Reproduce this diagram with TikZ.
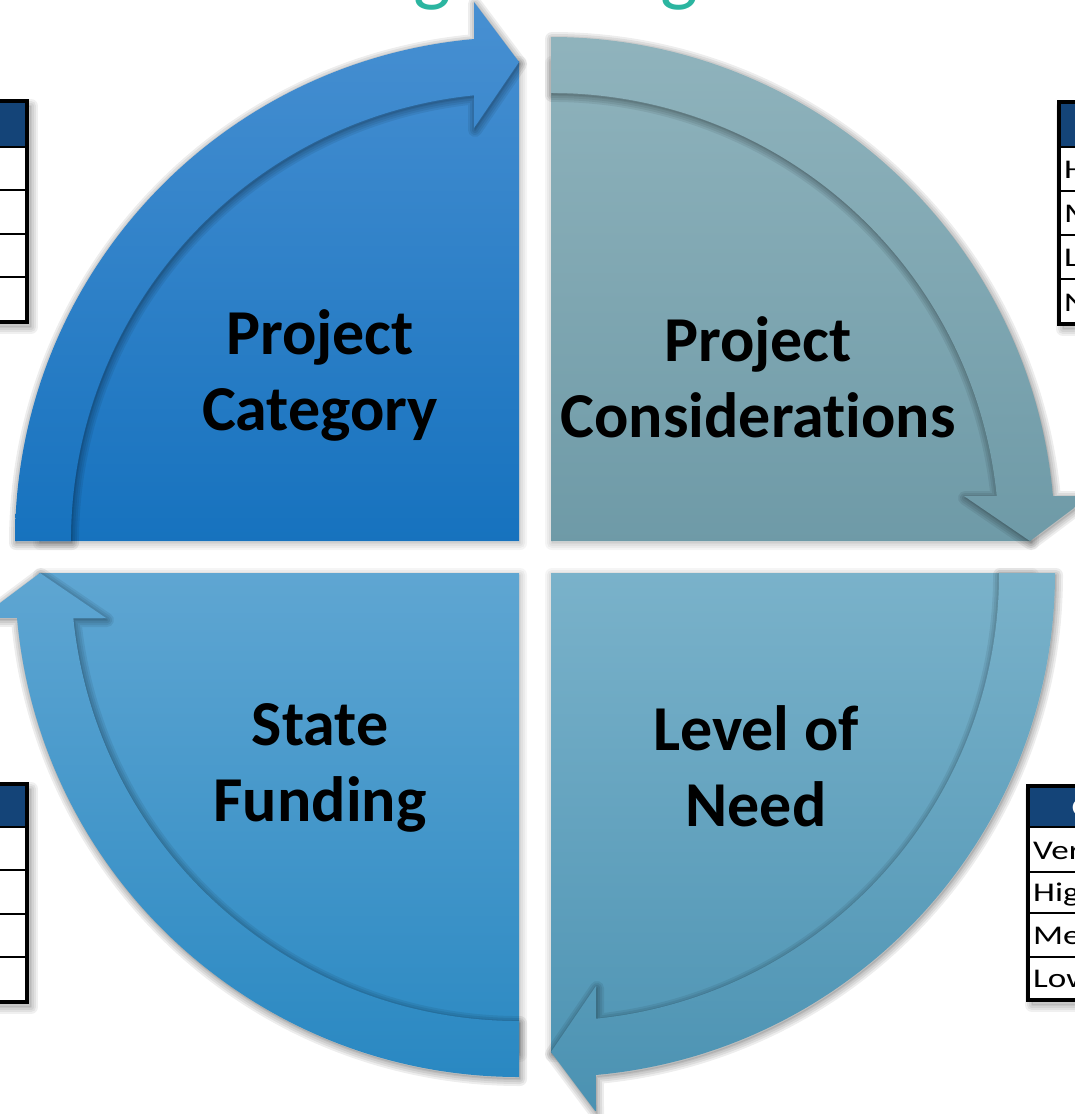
\documentclass[tikz,border=0pt]{standalone}
\usepackage{graphicx}
\usepackage{fontspec}
\setmainfont{Carlito}[Ligatures=NoCommon]
\definecolor{navy}{RGB}{20,68,120}
\definecolor{titleteal}{RGB}{43,181,160}
\definecolor{tlTop}{RGB}{72,144,210}
\definecolor{tlBot}{RGB}{22,114,190}
\definecolor{trTop}{RGB}{146,181,190}
\definecolor{trBot}{RGB}{110,154,167}
\definecolor{brTop}{RGB}{122,178,202}
\definecolor{brBot}{RGB}{75,146,178}
\definecolor{blTop}{RGB}{95,166,210}
\definecolor{blBot}{RGB}{38,134,193}
% canonical shapes: corner at origin, quarter spanning left and up (y axis points down)
\def\bodyP{(0,0) -- (180:480) arc[start angle=180,end angle=270,radius=480] -- cycle}
\def\bandP{(180:448) -- (180:504) arc[start angle=180,end angle=264.88,radius=504] -- (-45,-539) -- (0,-479) -- (-45,-413) -- (-45,-445.7) arc[start angle=264.24,end angle=180,radius=448] -- cycle}
\newcommand\softshadow[2]{%
  \foreach \w in {14,10,6,2}{\draw[black, opacity=#2, line width=\w pt, line join=round] #1;}
  \fill[black, opacity=#2] #1;}
\newcommand\quadrant[7]{%
  \begin{scope}[shift={(#1+1,#2+2)}, rotate=#3]\softshadow{\bodyP}{0.04}\end{scope}
  \begin{scope}[shift={(#1,#2)}, rotate=#3]
    \clip \bodyP;
    \begin{scope}[reset cm]\shade[top color=#4, bottom color=#5] (#1-560,#6) rectangle (#1+560,#7);\end{scope}
  \end{scope}
  \begin{scope}[shift={(#1+1,#2+2)}, rotate=#3]\softshadow{\bandP}{0.07}\end{scope}
  \begin{scope}[shift={(#1,#2)}, rotate=#3]
    \clip \bandP;
    \begin{scope}[reset cm]\shade[top color=#4, bottom color=#5] (#1-560,#6) rectangle (#1+560,#7);\end{scope}
  \end{scope}}
\newcommand\sidetable[8]{% #1 left, #2 right, #3 top, #4 header bottom, #5-#7 row lines, #8 bottom
  \begin{scope}[shift={(4,5)}]\softshadow{(#1,#3) rectangle (#2,#8)}{0.06}\end{scope}
  \fill[white] (#1,#3) rectangle (#2,#8);
  \fill[navy] (#1,#3) rectangle (#2,#4);
  \foreach \yy in {#4,#5,#6,#7}{\draw[line width=2.5pt] (#1,\yy) -- (#2,\yy);}
  \draw[line width=4pt] (#1,#3) rectangle (#2,#8);}
\newcommand\wide[1]{\scalebox{1.3}[1]{#1}}
\begin{document}
\begin{tikzpicture}[x=1pt,y=-1pt,
  lbl/.style={font=\bfseries\fontsize{64}{76}\selectfont, align=center, text=black, inner sep=0pt},
  cell/.style={font=\fontsize{27}{32}\selectfont, anchor=base west, inner sep=0pt},
  titleg/.style={font=\fontsize{80}{96}\selectfont, text=titleteal, anchor=base, inner sep=0pt}]
\useasboundingbox (0,0) rectangle (1074,1114);
\fill[white] (0,0) rectangle (1074,1114);
% partly visible title
\node[titleg] (g1) at (432,-4) {g};
\node[titleg] (g2) at (679,-4) {g};
% four quarter pieces with circular arrows
\quadrant{519}{541}{0}{tlTop}{tlBot}{0}{545}
\quadrant{551}{541}{-90}{trTop}{trBot}{0}{545}
\quadrant{551}{573}{180}{brTop}{brBot}{570}{1110}
\quadrant{519}{573}{90}{blTop}{blBot}{570}{1110}
% labels
\node[lbl] (pcat) at (320,375) {Project\\Category};
\node[lbl] (pcon) at (758,377) {Project\\Considerations};
\node[lbl] (sfund) at (320,768) {State\\Funding};
\node[lbl] (lneed) at (756,766) {Level of\\Need};
% side tables (cut by the page edge)
\sidetable{-40}{27}{101}{147}{190}{234}{277}{322}
\sidetable{-40}{27}{784}{827}{870}{914}{957}{1002}
\sidetable{1059}{1200}{102}{147}{191}{235}{279}{324}
\sidetable{1028}{1200}{786}{827}{872}{913}{957}{1000}
\node[cell] (t1a) at (1064,178) {\wide{High}};
\node[cell] (t1b) at (1064,222) {\wide{Medium}};
\node[cell] (t1c) at (1064,266) {\wide{Low}};
\node[cell] (t1d) at (1064,311) {\wide{None}};
\node[cell, text=white, font=\bfseries\fontsize{27}{32}\selectfont] (t2h) at (1072,816) {\wide{Criteria}};
\node[cell] (t2a) at (1033,859) {\wide{Very High}};
\node[cell] (t2b) at (1033,901) {\wide{High}};
\node[cell] (t2c) at (1033,944) {\wide{Medium}};
\node[cell] (t2d) at (1033,987) {\wide{Low}};
\end{tikzpicture}
\end{document}
